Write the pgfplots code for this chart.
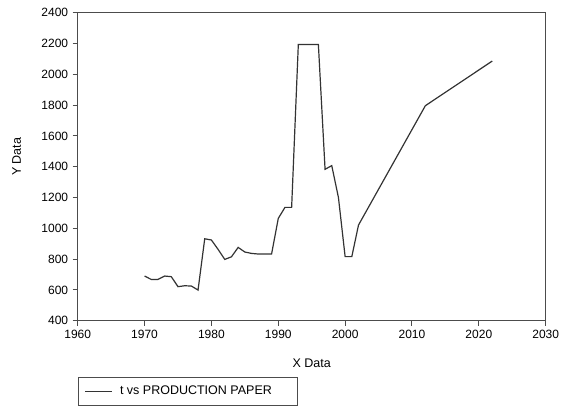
\documentclass[border=0pt]{standalone}
\usepackage{fontspec}
\setmainfont{Liberation Sans}
\usepackage{pgfplots}
\pgfplotsset{compat=1.18}
\begin{document}
\begin{tikzpicture}[x=1pt,y=1pt]
\path[use as bounding box] (-77.7,-87.3) rectangle (490.3,320.7);
\begin{axis}[
  at={(0,0)}, anchor=south west,
  scale only axis, width=468pt, height=308pt,
  xmin=1960, xmax=2030, ymin=400, ymax=2400,
  xtick={1960,1970,...,2030}, ytick={400,600,...,2400},
  xtick pos=bottom, ytick pos=left,
  /pgf/number format/assume math mode=true,
  xticklabel style={/pgf/number format/1000 sep={}, font=\fontsize{12}{14}\selectfont, yshift=-1pt},
  yticklabel style={/pgf/number format/1000 sep={}, font=\fontsize{12}{14}\selectfont, xshift=-1pt},
  xlabel={X Data}, ylabel={Y Data},
  label style={font=\fontsize{12.5}{14}\selectfont},
  xlabel style={at={(axis description cs:0.5,-0.1383)}, anchor=center},
  ylabel style={at={(axis description cs:-0.1303,0.532)}, anchor=center},
  tick align=outside, major tick length=5pt,
  axis line style={draw=black!70, line width=1pt},
  every tick/.style={draw=black!70, line width=1pt},
  legend style={at={(0.0013,-0.1818)}, anchor=north west, draw=black!70, line width=1pt,
    font=\fontsize{12.5}{14}\selectfont, inner xsep=6pt, inner ysep=7pt,
    nodes={inner sep=2pt}},
  legend image code/.code={\draw[#1] (2pt,0pt) -- (29pt,0pt);},
  legend cell align=left,
]
\addplot[color=black!80, line width=1.2pt] coordinates {
(1970,690) (1971,668) (1972,668) (1973,690) (1974,686) (1975,621) (1976,627) (1977,625)
(1978,599) (1979,932) (1980,924) (1981,863) (1982,798) (1983,815) (1984,876) (1985,846)
(1986,837) (1987,833) (1988,833) (1989,833) (1990,1064) (1991,1136) (1992,1136)
(1993,2194) (1994,2194) (1995,2194) (1996,2194) (1997,1383) (1998,1407) (1999,1200)
(2000,816) (2001,816) (2002,1021) (2012,1796) (2022,2086)
};
\addlegendentry{\hspace*{5pt}t vs PRODUCTION PAPER\hspace*{18pt}}
\end{axis}
\end{tikzpicture}
\end{document}
